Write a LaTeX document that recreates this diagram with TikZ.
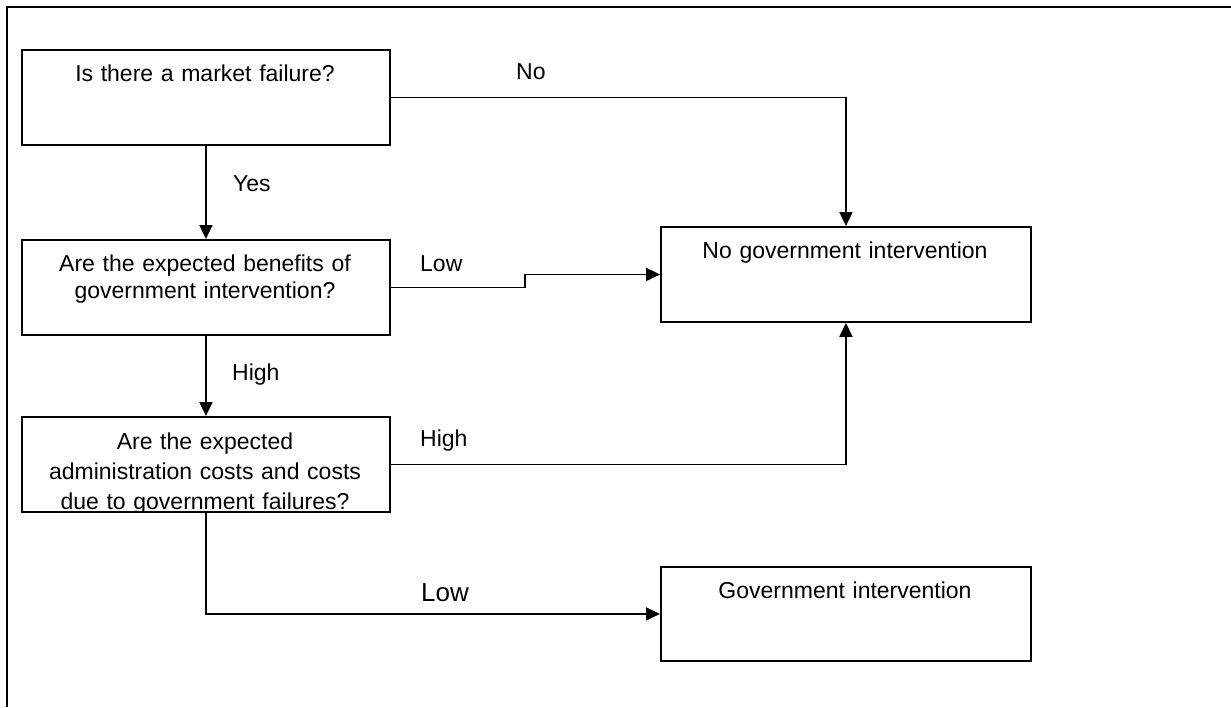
\documentclass[tikz,border=0pt]{standalone}
\usepackage{fontspec}
\setmainfont{Liberation Sans}
\usetikzlibrary{arrows.meta}
\begin{document}
\begin{tikzpicture}[x=1pt,y=-1pt,
  box/.style={draw, line width=1.9pt, minimum width=368pt, minimum height=95pt, inner sep=0pt, anchor=north west},
  txt/.style={font=\fontsize{23}{27}\selectfont, inner sep=0pt, anchor=base, align=center, text width=360pt},
  lbl/.style={font=\fontsize{23}{27}\selectfont, inner sep=0pt, anchor=base west},
  conn/.style={line width=1.9pt, -{Triangle[length=14pt,width=13pt]}}]
\useasboundingbox (0,0) rectangle (1231,707);
\fill[white] (0,0) rectangle (1231,707);
% outer frame (left and top edges)
\draw[line width=2.4pt] (7,707) -- (7,7) -- (1231,7);
% boxes
\node[box] (A) at (21,49) {};
\node[box] (B) at (21,239) {};
\node[box] (C) at (21,416) {};
\node[box, minimum width=370pt] (D) at (660,226) {};
\node[box, minimum width=370pt, minimum height=94pt] (E) at (660,566) {};
% box texts
\node[txt] (tA) at (205,81) {Is there a market failure?};
\node[txt] (tB) at (205,271) {Are the expected benefits of\\government intervention?};
\begin{scope}
\clip (C.north west) rectangle (C.south east);
\node[txt, font=\fontsize{23}{30}\selectfont] (tC) at (205,449) {Are the expected\\administration costs and costs\\due to government failures?};
\end{scope}
\node[txt] (tD) at (845,258) {No government intervention};
\node[txt] (tE) at (845,598) {Government intervention};
% connectors
\coordinate (jog) at (525,0);
\draw[conn] (A.south) -- (B.north);
\draw[conn] (B.south) -- (C.north);
\draw[conn] (A.east) -| (D.north);
\draw[conn] (B.east) -- (jog |- B.east) -- (jog |- D.west) -- (D.west);
\draw[conn] (C.east) -| (D.south);
\draw[conn] (C.south) |- (E.west);
% labels
\node[lbl] (lNo) at (516,79) {No};
\node[lbl] (lYes) at (233,191) {Yes};
\node[lbl] (lLow1) at (420,271) {Low};
\node[lbl] (lHigh1) at (232,380) {High};
\node[lbl] (lHigh2) at (420,446) {High};
\node[lbl, font=\fontsize{26}{30}\selectfont] (lLow2) at (421,601) {Low};
\end{tikzpicture}
\end{document}
